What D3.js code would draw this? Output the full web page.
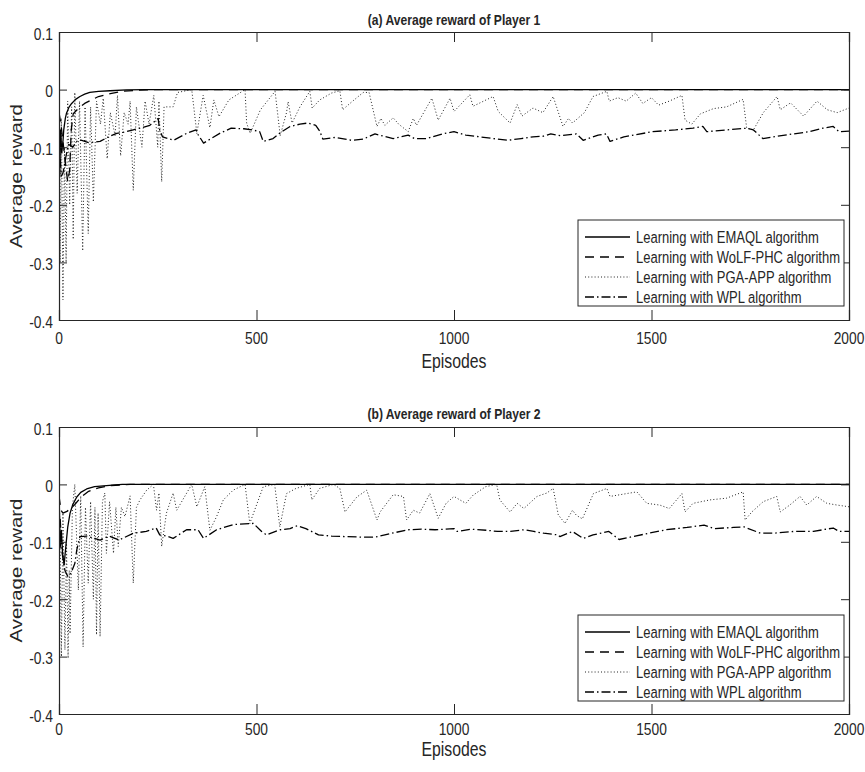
<!DOCTYPE html>
<html><head><meta charset="utf-8">
<script src="https://cdn.jsdelivr.net/npm/d3@7"></script>
<style>
body{margin:0;background:#fff;}
text{font-family:"Liberation Sans",Arial,Helvetica,sans-serif;fill:#262626;}
</style></head>
<body><svg id="c" width="865" height="772"></svg>
<script>
// ---------- DATA ----------
const xTicks = [0, 500, 1000, 1500, 2000];
const yTicks = [0.1, 0, -0.1, -0.2, -0.3, -0.4];
const yTickLabels = ["0.1", "0", "-0.1", "-0.2", "-0.3", "-0.4"];
const seriesNames = ["Learning with EMAQL algorithm", "Learning with WoLF-PHC algorithm", "Learning with PGA-APP algorithm", "Learning with WPL algorithm"];
const titles = ["(a) Average reward of Player 1", "(b) Average reward of Player 2"];

// Player 1 : [episode, average reward]
const p1Emaql = [[0,-0.03],[2,-0.15],[4,-0.07],[7,-0.11],[10,-0.09],[12,-0.07],[16,-0.05],[19,-0.041],[25,-0.031],[32,-0.024],[42,-0.017],[53,-0.012],[65,-0.008],[78,-0.005],[100,-0.003],[129,-0.002],[171,-0.0005],[220,0],[2000,0]];
const p1Wolf = [[0,-0.04],[5,-0.06],[10,-0.09],[15,-0.12],[22,-0.16],[27,-0.14],[31,-0.07],[36,-0.042],[50,-0.032],[65,-0.024],[82,-0.018],[100,-0.012],[130,-0.007],[160,-0.003],[200,-0.001],[250,0],[2000,0]];
const p1Pga = [[0,-0.02],[3,-0.30],[6,-0.05],[10,-0.365],[14,-0.10],[18,-0.30],[22,-0.02],[27,-0.20],[32,-0.03],[36,-0.26],[40,-0.005],[46,-0.18],[52,-0.02],[60,-0.28],[66,-0.03],[74,-0.25],[80,-0.03],[87,-0.195],[95,-0.02],[105,-0.06],[112,-0.015],[122,-0.12],[130,-0.04],[142,-0.08],[148,-0.01],[156,-0.115],[165,-0.04],[175,-0.06],[180,-0.02],[188,-0.175],[196,-0.03],[210,-0.10],[218,-0.02],[228,-0.06],[240,-0.01],[250,-0.10],[253,-0.02],[260,-0.16],[266,-0.03],[289,-0.03],[300,-0.005],[336,0],[349,-0.076],[365,-0.01],[382,-0.066],[392,-0.018],[405,-0.047],[430,-0.018],[471,0],[475,-0.058],[484,-0.076],[510,-0.035],[547,-0.003],[560,-0.08],[576,-0.04],[580,-0.021],[590,-0.058],[610,-0.03],[635,-0.003],[641,-0.032],[660,-0.018],[690,-0.006],[711,-0.002],[718,-0.035],[740,-0.022],[770,-0.005],[785,-0.005],[805,-0.064],[815,-0.05],[825,-0.062],[846,-0.049],[860,-0.06],[884,-0.073],[897,-0.05],[905,-0.062],[944,-0.015],[960,-0.053],[990,-0.015],[1000,-0.038],[1040,-0.009],[1048,-0.029],[1099,-0.012],[1112,-0.038],[1142,-0.058],[1160,-0.026],[1172,-0.046],[1200,-0.032],[1225,-0.04],[1251,-0.012],[1276,-0.064],[1290,-0.05],[1300,-0.058],[1330,-0.04],[1352,-0.012],[1387,-0.003],[1393,-0.02],[1415,-0.014],[1436,-0.02],[1460,-0.006],[1478,-0.024],[1500,-0.014],[1518,-0.027],[1545,-0.02],[1577,-0.01],[1585,-0.053],[1602,-0.06],[1624,-0.042],[1657,-0.033],[1690,-0.03],[1732,-0.017],[1741,-0.067],[1758,-0.07],[1783,-0.04],[1818,-0.012],[1826,-0.035],[1852,-0.023],[1885,-0.046],[1919,-0.02],[1945,-0.035],[1970,-0.04],[2000,-0.032]];
const p1Wpl = [[3,-0.12],[6,-0.15],[10,-0.145],[14,-0.13],[17,-0.118],[24,-0.095],[35,-0.1],[45,-0.09],[53,-0.087],[75,-0.092],[104,-0.09],[125,-0.082],[146,-0.076],[165,-0.074],[188,-0.07],[210,-0.066],[230,-0.062],[251,-0.05],[255,-0.07],[262,-0.082],[290,-0.088],[323,-0.076],[347,-0.07],[352,-0.078],[366,-0.093],[385,-0.085],[407,-0.076],[436,-0.067],[468,-0.068],[490,-0.07],[508,-0.073],[517,-0.09],[542,-0.085],[560,-0.075],[585,-0.064],[610,-0.06],[630,-0.058],[650,-0.062],[660,-0.072],[668,-0.086],[700,-0.083],[740,-0.088],[770,-0.086],[800,-0.077],[846,-0.085],[884,-0.079],[900,-0.085],[930,-0.085],[970,-0.077],[1000,-0.073],[1030,-0.079],[1065,-0.082],[1100,-0.085],[1136,-0.088],[1170,-0.085],[1200,-0.082],[1225,-0.081],[1245,-0.077],[1270,-0.08],[1310,-0.077],[1327,-0.088],[1365,-0.079],[1386,-0.077],[1395,-0.09],[1430,-0.082],[1503,-0.073],[1561,-0.07],[1605,-0.067],[1630,-0.064],[1640,-0.073],[1690,-0.07],[1741,-0.067],[1758,-0.07],[1782,-0.085],[1808,-0.082],[1858,-0.077],[1900,-0.073],[1934,-0.067],[1960,-0.064],[1975,-0.073],[2000,-0.072]];

// Player 2 : [episode, average reward]
const p2Emaql = [[0,-0.01],[3,-0.11],[6,-0.08],[9,-0.12],[13,-0.14],[17,-0.11],[22,-0.075],[28,-0.05],[35,-0.035],[45,-0.022],[55,-0.014],[70,-0.008],[90,-0.004],[120,-0.002],[160,0],[2000,0]];
const p2Wolf = [[0,-0.02],[5,-0.045],[10,-0.05],[20,-0.047],[30,-0.042],[40,-0.035],[50,-0.027],[60,-0.02],[75,-0.012],[100,-0.006],[130,-0.002],[180,0],[2000,0]];
const p2Pga = [[0,0],[3,-0.1],[6,-0.30],[10,-0.05],[15,-0.288],[19,-0.1],[23,-0.303],[26,-0.15],[28,-0.26],[34,-0.04],[40,0],[49,-0.184],[55,-0.02],[61,-0.283],[67,-0.04],[74,-0.172],[80,-0.03],[87,-0.2],[91,-0.04],[95,-0.262],[99,-0.05],[104,-0.265],[110,-0.03],[116,-0.015],[120,-0.12],[128,-0.03],[138,-0.12],[144,-0.04],[150,-0.108],[158,-0.04],[167,-0.056],[180,-0.02],[188,-0.172],[196,-0.04],[205,-0.027],[222,-0.01],[239,0],[247,-0.045],[253,-0.015],[260,-0.108],[272,-0.05],[289,-0.015],[298,-0.045],[336,0],[349,-0.039],[369,-0.004],[382,-0.08],[399,-0.056],[416,-0.027],[441,-0.01],[471,0],[483,-0.068],[517,-0.004],[546,0],[559,-0.074],[576,-0.016],[600,-0.007],[635,0],[640,-0.027],[660,-0.007],[695,0],[711,-0.007],[724,-0.048],[754,-0.022],[779,-0.01],[805,-0.062],[813,-0.048],[846,-0.018],[872,-0.021],[880,-0.062],[897,-0.045],[913,-0.05],[939,-0.016],[960,-0.059],[980,-0.033],[1000,-0.021],[1030,-0.033],[1048,-0.019],[1080,-0.004],[1108,0],[1116,-0.027],[1142,-0.048],[1160,-0.033],[1177,-0.042],[1210,-0.021],[1235,-0.015],[1251,-0.007],[1264,-0.053],[1281,-0.068],[1300,-0.045],[1310,-0.054],[1325,-0.06],[1353,-0.016],[1387,-0.007],[1395,-0.021],[1420,-0.018],[1463,-0.013],[1488,-0.033],[1521,-0.036],[1545,-0.042],[1577,-0.016],[1585,-0.048],[1605,-0.033],[1648,-0.027],[1690,-0.024],[1732,-0.013],[1737,-0.062],[1754,-0.048],[1783,-0.03],[1817,-0.021],[1826,-0.048],[1850,-0.036],[1876,-0.021],[1893,-0.036],[1918,-0.021],[1944,-0.033],[1970,-0.036],[2000,-0.039]];
const p2Wpl = [[3,-0.06],[8,-0.12],[15,-0.15],[22,-0.16],[30,-0.155],[40,-0.138],[45,-0.114],[53,-0.091],[70,-0.09],[104,-0.097],[127,-0.09],[152,-0.097],[188,-0.085],[221,-0.082],[246,-0.076],[255,-0.088],[272,-0.09],[289,-0.094],[323,-0.079],[352,-0.079],[366,-0.094],[399,-0.079],[441,-0.07],[492,-0.068],[513,-0.082],[525,-0.088],[560,-0.079],[585,-0.077],[603,-0.072],[625,-0.077],[657,-0.088],[690,-0.09],[730,-0.091],[775,-0.092],[800,-0.092],[825,-0.088],[850,-0.084],[884,-0.079],[918,-0.078],[952,-0.079],[1000,-0.077],[1008,-0.082],[1042,-0.078],[1084,-0.08],[1110,-0.082],[1143,-0.082],[1177,-0.079],[1202,-0.082],[1227,-0.085],[1263,-0.088],[1268,-0.091],[1300,-0.082],[1327,-0.094],[1352,-0.088],[1392,-0.082],[1418,-0.096],[1452,-0.091],[1494,-0.085],[1537,-0.079],[1590,-0.075],[1633,-0.071],[1658,-0.077],[1708,-0.075],[1734,-0.074],[1776,-0.085],[1810,-0.085],[1860,-0.082],[1910,-0.082],[1934,-0.079],[1960,-0.076],[1975,-0.082],[2000,-0.082]];

// ---------- DRAW ----------
const svg = d3.select("#c");
const SY = 1.24; // vertical stretch of the text glyphs seen in the reference
const styles = [
  {dash: null, w: 1.3, c: "#000"},
  {dash: "9,6", w: 1.3, c: "#000"},
  {dash: "1,2.2", w: 1, c: "#222"},
  {dash: "9,3,1.5,3", w: 1.3, c: "#000"}
];
const panels = [
  {top: 32, bottom: 320, title: titles[0], titleY: 25, legTop: 220, tickOff: 24, labOff: 48, data: [p1Emaql, p1Wolf, p1Pga, p1Wpl]},
  {top: 427, bottom: 714, title: titles[1], titleY: 419, legTop: 615, tickOff: 21, labOff: 42, data: [p2Emaql, p2Wolf, p2Pga, p2Wpl]}
];
const left = 59, right = 849;
const axisColor = "#262626";

function txt(g, x, y, s, size, anchor, extra) {
  const t = g.append("text").attr("transform", `translate(${x},${y}) scale(1,${SY})`)
    .attr("text-anchor", anchor || "start").attr("font-size", size).text(s);
  if (extra) extra(t);
  return t;
}

panels.forEach((p, i) => {
  const x = d3.scaleLinear().domain([0, 2000]).range([left, right]);
  const y = d3.scaleLinear().domain([-0.4, 0.1]).range([p.bottom, p.top]);
  const g = svg.append("g");

  const clipId = "clip" + i;
  svg.append("clipPath").attr("id", clipId).append("rect")
    .attr("x", left).attr("y", p.top).attr("width", right - left).attr("height", p.bottom - p.top);

  const line = d3.line().x(d => x(d[0])).y(d => y(d[1]));
  const lg = g.append("g").attr("clip-path", `url(#${clipId})`);
  [2, 3, 1, 0].forEach(k => {
    lg.append("path").datum(p.data[k]).attr("d", line)
      .attr("fill", "none").attr("stroke", styles[k].c).attr("stroke-width", styles[k].w)
      .attr("stroke-dasharray", styles[k].dash).attr("stroke-linejoin", "round");
  });

  const ax = g.append("g");
  ax.append("g").attr("transform", `translate(0,${p.bottom})`)
    .call(d3.axisBottom(x).tickValues(xTicks).tickSize(-10).tickFormat(""));
  ax.append("g").attr("transform", `translate(0,${p.top})`)
    .call(d3.axisTop(x).tickValues(xTicks).tickSize(-10).tickFormat(""));
  ax.append("g").attr("transform", `translate(${left},0)`)
    .call(d3.axisLeft(y).tickValues(yTicks).tickSize(-8).tickFormat(""));
  ax.append("g").attr("transform", `translate(${right},0)`)
    .call(d3.axisRight(y).tickValues(yTicks).tickSize(-8).tickFormat(""));
  ax.selectAll("path.domain").attr("stroke", axisColor).attr("stroke-width", 1.2);
  ax.selectAll(".tick line").attr("stroke", axisColor).attr("stroke-width", 1);

  xTicks.forEach(d => txt(g, x(d), p.bottom + p.tickOff, d, 13.8, "middle"));
  yTicks.forEach((d, j) => txt(g, left - 6, y(d) + 7.6, yTickLabels[j], 13.8, "end"));

  txt(g, (left + right) / 2, p.titleY, p.title, 12.1, "middle", t => t.attr("font-weight", "bold").attr("fill", "#000"));
  txt(g, (left + right) / 2, p.bottom + p.labOff, "Episodes", 15.8, "middle");
  g.append("text").attr("transform", `translate(21.5,${(p.top + p.bottom) / 2}) rotate(-90) scale(${SY},1)`)
    .attr("text-anchor", "middle").attr("font-size", 16.5).text("Average reward");

  const lx = 578, lw = 266, lh = 86;
  const leg = g.append("g");
  leg.append("rect").attr("x", lx).attr("y", p.legTop).attr("width", lw).attr("height", lh)
    .attr("fill", "#fff").attr("stroke", axisColor).attr("stroke-width", 1);
  seriesNames.forEach((name, k) => {
    const cy = p.legTop + 17 + k * 20;
    leg.append("line").attr("x1", lx + 7).attr("x2", lx + 52).attr("y1", cy).attr("y2", cy)
      .attr("stroke", styles[k].c).attr("stroke-width", styles[k].w).attr("stroke-dasharray", styles[k].dash);
    txt(leg, lx + 58, cy + 5.8, name, 13, "start", t => t.attr("fill", "#000"));
  });
});
</script></body></html>
